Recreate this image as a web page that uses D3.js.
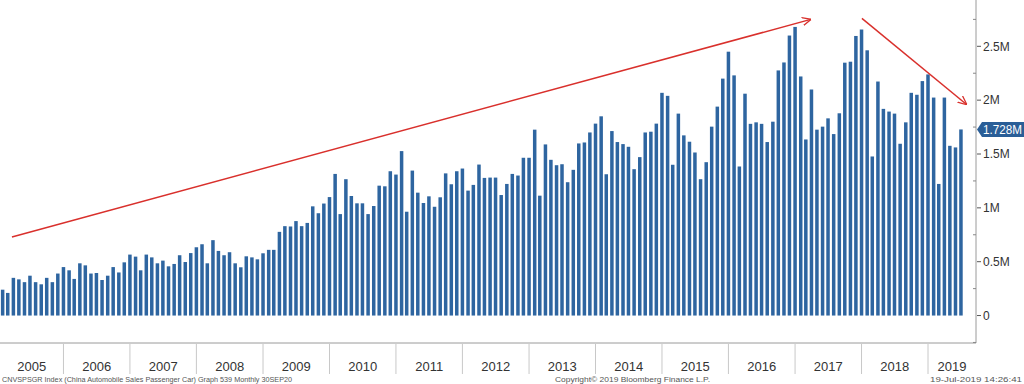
<!DOCTYPE html>
<html>
<head>
<meta charset="utf-8">
<script src="https://cdn.jsdelivr.net/npm/d3@7"></script>
<style>
  body { margin: 0; background: #fff; }
  text { font-family: "Liberation Sans", Arial, sans-serif; }
</style>
</head>
<body>
<div id="chart"></div>
<script>
const width = 1024
const height = 384
const plot = { left: 0, right: 976, top: 0, bottom: 343 }

// Monthly passenger car sales, millions (Jan 2005 .. Jun 2019)
const firstMonth = new Date(2005, 0, 1)
const sales = [
  0.24, 0.21, 0.35, 0.336, 0.31, 0.37, 0.31, 0.29, 0.35, 0.31, 0.39, 0.45,
  0.42, 0.34, 0.485, 0.466, 0.39, 0.395, 0.33, 0.37, 0.45, 0.40, 0.494, 0.566,
  0.547, 0.42, 0.566, 0.54, 0.485, 0.51, 0.457, 0.479, 0.56, 0.497, 0.58, 0.634,
  0.662, 0.485, 0.70, 0.60, 0.56, 0.588, 0.485, 0.448, 0.55, 0.54, 0.522, 0.578,
  0.61, 0.61, 0.777, 0.83, 0.827, 0.877, 0.83, 0.86, 1.014, 0.95, 1.04, 1.10,
  1.315, 0.942, 1.266, 1.11, 1.042, 1.042, 0.942, 1.017, 1.206, 1.20, 1.34, 1.309,
  1.527, 0.964, 1.346, 1.141, 1.045, 1.107, 1.01, 1.098, 1.32, 1.219, 1.34, 1.365,
  1.16, 1.213, 1.402, 1.278, 1.281, 1.281, 1.119, 1.222, 1.315, 1.30, 1.465, 1.465,
  1.726, 1.113, 1.589, 1.446, 1.396, 1.405, 1.238, 1.353, 1.598, 1.607, 1.70, 1.782,
  1.85, 1.312, 1.713, 1.611, 1.592, 1.567, 1.359, 1.471, 1.70, 1.707, 1.782, 2.068,
  2.04, 1.40, 1.875, 1.673, 1.614, 1.514, 1.266, 1.424, 1.754, 1.94, 2.20, 2.45,
  2.23, 1.384, 2.06, 1.78, 1.794, 1.78, 1.611, 1.80, 2.276, 2.35, 2.60, 2.68,
  2.22, 1.635, 2.099, 1.726, 1.754, 1.831, 1.685, 1.878, 2.348, 2.357, 2.596, 2.656,
  2.463, 1.477, 2.173, 1.919, 1.894, 1.875, 1.595, 1.794, 2.068, 2.05, 2.177, 2.239,
  2.024, 1.222, 2.024, 1.576, 1.561, 1.728
]
const years = d3.range(2005, 2020)
const yTicks = [0, 0.5, 1, 1.5, 2, 2.5]
const yTickLabels = ["0", "0.5M", "1M", "1.5M", "2M", "2.5M"]
const yMinorTicks = [-0.25, 0.25, 0.75, 1.25, 1.75, 2.25, 2.75]
const lastLabel = "1.728M"

// annotation arrows: [date, value] start and end
const arrows = [
  { from: [new Date(2005, 2, 24), 0.73], to: [new Date(2017, 2, 28), 2.75] },
  { from: [new Date(2018, 0, 3), 2.76], to: [new Date(2019, 7, 1), 1.96] }
]

const footerLeft = "CNVSPSGR Index (China Automobile Sales Passenger Car) Graph 539  Monthly 30SEP20"
const footerMid = "Copyright\u00A9 2019 Bloomberg Finance L.P."
const footerRight = "19-Jul-2019 14:26:41"

const data = sales.map((v, i) => ({ date: d3.timeMonth.offset(firstMonth, i), value: v }))

const svg = d3.select("#chart")
  .append("svg")
  .attr("width", width)
  .attr("height", height)

svg.append("rect").attr("width", width).attr("height", height).attr("fill", "#fff")

// scales
const x = d3.scaleTime()
  .domain([new Date(2005, 0, 1), new Date(2019, 0, 1)])
  .range([-3, 928])
const y = d3.scaleLinear()
  .domain([-0.255, 2.93])
  .range([plot.bottom, plot.top])

svg.append("clipPath").attr("id", "clip")
  .append("rect")
  .attr("x", plot.left).attr("y", plot.top)
  .attr("width", plot.right - plot.left).attr("height", plot.bottom - plot.top)

const elementGroup = svg.append("g").attr("clip-path", "url(#clip)")

// bars centred on month end
const monthW = x(new Date(2005, 1, 1)) - x(new Date(2005, 0, 1))
const barW = monthW * 0.62
elementGroup.selectAll("rect.bar")
  .data(data)
  .join("rect")
  .attr("class", "bar")
  .attr("x", d => x(d3.timeMonth.offset(d.date, 1)) - barW / 2)
  .attr("width", barW)
  .attr("y", d => y(d.value))
  .attr("height", d => y(0) - y(d.value))
  .attr("fill", "#2e65a0")

// arrows
svg.append("defs").append("marker")
  .attr("id", "head")
  .attr("viewBox", "0 0 10 10")
  .attr("refX", 9.5).attr("refY", 5)
  .attr("markerWidth", 9).attr("markerHeight", 9)
  .attr("markerUnits", "userSpaceOnUse")
  .attr("orient", "auto")
  .append("path")
  .attr("d", "M0,0.5 L10,5 L0,9.5")
  .attr("fill", "none")
  .attr("stroke", "#d9302c")
  .attr("stroke-width", 1.4)

svg.selectAll("line.arrow")
  .data(arrows)
  .join("line")
  .attr("class", "arrow")
  .attr("x1", d => x(d.from[0])).attr("y1", d => y(d.from[1]))
  .attr("x2", d => x(d.to[0])).attr("y2", d => y(d.to[1]))
  .attr("stroke", "#d9302c")
  .attr("stroke-width", 1.5)
  .attr("marker-end", "url(#head)")

// frame
svg.append("path")
  .attr("d", `M${plot.left},${plot.bottom}H${plot.right}V${plot.top}`)
  .attr("fill", "none")
  .attr("stroke", "#9a9a9a")
  .attr("stroke-width", 1)

// y axis on right
const yAxisGroup = svg.append("g").attr("transform", `translate(${plot.right},0)`)
yAxisGroup.selectAll("line.major")
  .data(yTicks)
  .join("line")
  .attr("class", "major")
  .attr("x1", 1).attr("x2", 5)
  .attr("y1", d => y(d)).attr("y2", d => y(d))
  .attr("stroke", "#555")
yAxisGroup.selectAll("line.minor")
  .data(yMinorTicks)
  .join("line")
  .attr("class", "minor")
  .attr("x1", -3).attr("x2", 0)
  .attr("y1", d => y(d)).attr("y2", d => y(d))
  .attr("stroke", "#888")
yAxisGroup.selectAll("text")
  .data(yTicks)
  .join("text")
  .attr("x", 7)
  .attr("y", d => y(d))
  .attr("dy", "0.35em")
  .attr("font-size", 12)
  .attr("fill", "#333")
  .text((d, i) => yTickLabels[i])

// last value tag
const lastY = y(sales[sales.length - 1])
const tag = svg.append("g").attr("transform", `translate(${plot.right + 1},${lastY})`)
tag.append("path")
  .attr("d", "M0,0 L5,-7.5 H47 V7.5 H5 Z")
  .attr("fill", "#2a5e97")
tag.append("text")
  .attr("x", 6).attr("dy", "0.36em")
  .attr("font-size", 12)
  .attr("fill", "#fff")
  .attr("textLength", 39).attr("lengthAdjust", "spacingAndGlyphs")
  .text(lastLabel)

// x axis: year separators and labels
const xAxisGroup = svg.append("g")
xAxisGroup.selectAll("line")
  .data(years.slice(1))
  .join("line")
  .attr("x1", d => x(new Date(d, 0, 1))).attr("x2", d => x(new Date(d, 0, 1)))
  .attr("y1", plot.bottom + 1).attr("y2", plot.bottom + 31)
  .attr("stroke", "#c8c8c8")
xAxisGroup.selectAll("text")
  .data(years)
  .join("text")
  .attr("x", d => {
    const a = Math.max(x(new Date(d, 0, 1)), plot.left)
    const b = Math.min(x(new Date(d + 1, 0, 1)), plot.right)
    return (a + b) / 2
  })
  .attr("y", 371)
  .attr("text-anchor", "middle")
  .attr("font-size", 13)
  .attr("fill", "#333")
  .text(d => d)

// footer
svg.append("text").attr("x", 2).attr("y", 382)
  .attr("font-size", 8).attr("fill", "#555")
  .attr("textLength", 290).attr("lengthAdjust", "spacingAndGlyphs")
  .text(footerLeft)
svg.append("text").attr("x", 555).attr("y", 382)
  .attr("font-size", 8).attr("fill", "#555")
  .attr("textLength", 155).attr("lengthAdjust", "spacingAndGlyphs")
  .text(footerMid)
svg.append("text").attr("x", 930).attr("y", 382)
  .attr("font-size", 8).attr("fill", "#555")
  .attr("textLength", 92).attr("lengthAdjust", "spacingAndGlyphs")
  .text(footerRight)
</script>
</body>
</html>
